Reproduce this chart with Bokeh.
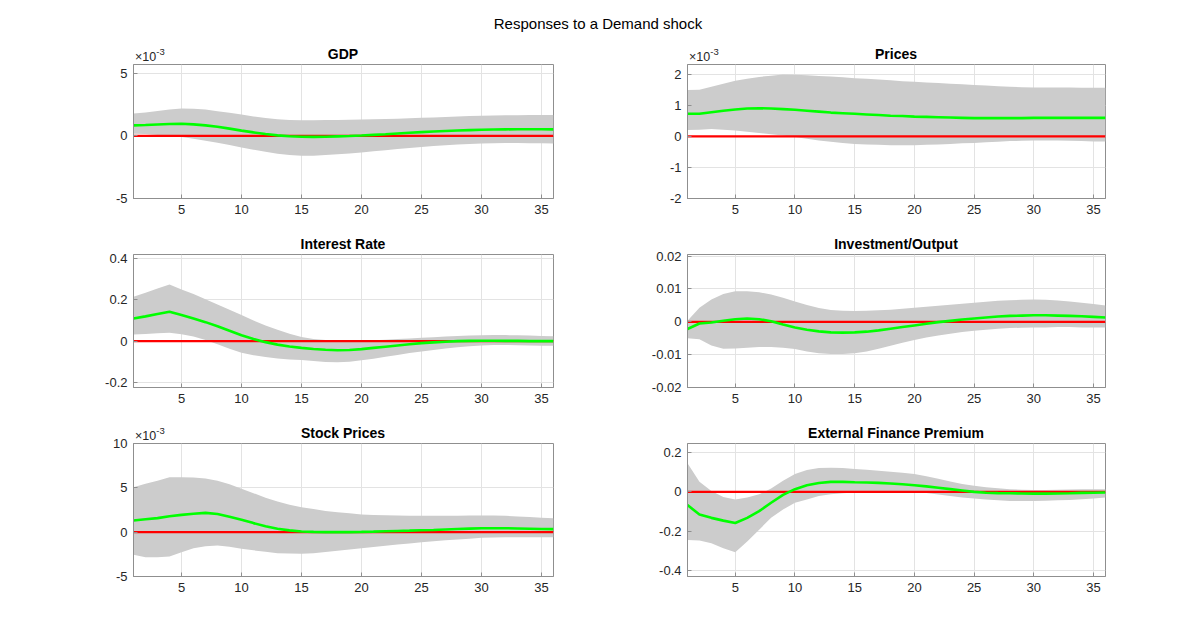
from bokeh.plotting import figure
from bokeh.layouts import column, row
from bokeh.models import Div, FixedTicker, Range1d
from bokeh.embed import file_html
from bokeh.resources import INLINE

periods = list(range(1, 37))
x_ticks = [5, 10, 15, 20, 25, 30, 35]
chart_title = "Responses to a Demand shock"

# GDP (x 1e-3)
gdp_mean = [0.84,0.87,0.91,0.95,0.97,0.92,0.84,0.73,0.58,0.42,0.28,0.15,0.04,-0.03,-0.07,-0.08,-0.07,-0.04,-0.01,0.03,0.08,0.13,0.19,0.25,0.30,0.35,0.39,0.43,0.46,0.49,0.51,0.52,0.53,0.53,0.53,0.52]
gdp_upper = [1.79,1.87,1.98,2.1,2.18,2.17,2.1,1.97,1.84,1.7,1.55,1.42,1.32,1.27,1.25,1.25,1.26,1.27,1.29,1.3,1.32,1.34,1.37,1.4,1.44,1.47,1.51,1.55,1.58,1.61,1.63,1.64,1.65,1.66,1.66,1.66]
gdp_lower = [0.18,0.15,0.08,0.0,-0.08,-0.22,-0.38,-0.55,-0.73,-0.92,-1.1,-1.27,-1.42,-1.53,-1.58,-1.58,-1.53,-1.47,-1.4,-1.32,-1.23,-1.14,-1.05,-0.96,-0.88,-0.81,-0.75,-0.69,-0.64,-0.6,-0.58,-0.57,-0.57,-0.58,-0.58,-0.6]

# Prices (x 1e-3)
prices_mean = [0.73,0.73,0.78,0.83,0.87,0.9,0.91,0.9,0.88,0.86,0.83,0.8,0.77,0.75,0.73,0.71,0.69,0.67,0.66,0.64,0.63,0.62,0.61,0.6,0.59,0.59,0.59,0.59,0.59,0.6,0.6,0.6,0.6,0.6,0.6,0.6]
prices_upper = [1.5,1.51,1.6,1.7,1.8,1.86,1.92,1.96,2.0,1.99,1.97,1.95,1.93,1.91,1.88,1.86,1.84,1.81,1.78,1.76,1.74,1.72,1.7,1.68,1.66,1.64,1.62,1.6,1.59,1.58,1.58,1.58,1.58,1.57,1.57,1.57]
prices_lower = [0.21,0.22,0.24,0.22,0.19,0.15,0.11,0.07,0.03,-0.02,-0.07,-0.13,-0.17,-0.21,-0.24,-0.26,-0.27,-0.28,-0.28,-0.28,-0.27,-0.26,-0.24,-0.22,-0.21,-0.19,-0.17,-0.15,-0.14,-0.13,-0.13,-0.13,-0.14,-0.15,-0.16,-0.16]

# Interest Rate
rate_mean = [0.11,0.12,0.131,0.142,0.127,0.11,0.092,0.072,0.05,0.028,0.01,-0.005,-0.017,-0.026,-0.033,-0.038,-0.042,-0.044,-0.043,-0.039,-0.033,-0.027,-0.021,-0.015,-0.01,-0.006,-0.003,0.0,0.001,0.002,0.002,0.001,0.001,0.0,0.0,0.0]
rate_upper = [0.215,0.235,0.255,0.274,0.25,0.228,0.203,0.178,0.152,0.126,0.1,0.076,0.055,0.036,0.02,0.01,0.005,0.003,0.002,0.002,0.004,0.007,0.01,0.013,0.016,0.019,0.022,0.025,0.027,0.028,0.029,0.029,0.028,0.027,0.025,0.024]
rate_lower = [0.032,0.035,0.038,0.04,0.033,0.022,0.005,-0.015,-0.037,-0.056,-0.068,-0.077,-0.084,-0.089,-0.092,-0.097,-0.101,-0.103,-0.1,-0.093,-0.085,-0.076,-0.067,-0.058,-0.05,-0.043,-0.036,-0.03,-0.025,-0.021,-0.019,-0.019,-0.02,-0.021,-0.022,-0.023]

# Investment/Output
inv_mean = [-0.0022,-0.0005,-0.0002,0.0003,0.0008,0.001,0.0008,0.0002,-0.0008,-0.0017,-0.0024,-0.0029,-0.0032,-0.0033,-0.0032,-0.003,-0.0026,-0.0021,-0.0016,-0.0011,-0.0006,-0.0001,0.0003,0.0007,0.001,0.0013,0.0016,0.0018,0.0019,0.002,0.002,0.0019,0.0018,0.0017,0.0015,0.0013]
inv_upper = [0.0003,0.0043,0.0068,0.0085,0.0093,0.0093,0.009,0.0083,0.0073,0.0062,0.0051,0.0042,0.0036,0.0034,0.0033,0.0034,0.0035,0.0037,0.004,0.0043,0.0046,0.0049,0.0052,0.0055,0.0058,0.0061,0.0064,0.0066,0.0067,0.0068,0.0067,0.0065,0.0062,0.0058,0.0054,0.005]
inv_lower = [-0.005,-0.0053,-0.0072,-0.0082,-0.0081,-0.0079,-0.0077,-0.0077,-0.0079,-0.0083,-0.009,-0.0096,-0.0098,-0.0098,-0.0096,-0.009,-0.0082,-0.0073,-0.0064,-0.0055,-0.0048,-0.0042,-0.0036,-0.0031,-0.0027,-0.0024,-0.0021,-0.0019,-0.0018,-0.0017,-0.0017,-0.0016,-0.0016,-0.0017,-0.0017,-0.0017]

# Stock Prices (x 1e-3)
stock_mean = [1.32,1.45,1.58,1.8,1.95,2.08,2.18,2.05,1.75,1.4,1.02,0.66,0.38,0.2,0.08,0.03,0.0,0.0,0.01,0.03,0.06,0.1,0.14,0.17,0.21,0.25,0.3,0.35,0.4,0.44,0.45,0.45,0.42,0.39,0.36,0.34]
stock_upper = [5.07,5.45,5.8,6.2,6.2,6.17,6.05,5.8,5.4,4.9,4.4,3.87,3.45,3.1,2.82,2.6,2.4,2.26,2.12,2.0,1.94,1.9,1.87,1.85,1.84,1.84,1.85,1.86,1.87,1.88,1.87,1.85,1.77,1.7,1.64,1.58]
stock_lower = [-2.56,-2.82,-2.82,-2.74,-2.26,-1.8,-1.6,-1.5,-1.65,-1.88,-2.05,-2.2,-2.37,-2.42,-2.44,-2.38,-2.25,-2.1,-1.95,-1.8,-1.66,-1.53,-1.4,-1.27,-1.13,-1.02,-0.92,-0.83,-0.74,-0.64,-0.6,-0.58,-0.56,-0.56,-0.56,-0.56]

# External Finance Premium
efp_mean = [-0.067,-0.115,-0.132,-0.146,-0.158,-0.132,-0.098,-0.055,-0.015,0.014,0.034,0.045,0.051,0.051,0.049,0.048,0.046,0.043,0.039,0.034,0.028,0.021,0.014,0.007,0.0,-0.004,-0.006,-0.007,-0.008,-0.009,-0.009,-0.008,-0.007,-0.005,-0.004,-0.003]
efp_upper = [0.146,0.051,0.005,-0.026,-0.038,-0.029,-0.012,0.017,0.057,0.091,0.111,0.122,0.123,0.121,0.117,0.113,0.108,0.103,0.097,0.091,0.08,0.067,0.053,0.04,0.031,0.023,0.018,0.014,0.011,0.01,0.01,0.011,0.012,0.013,0.014,0.014]
efp_lower = [-0.244,-0.247,-0.261,-0.286,-0.307,-0.252,-0.192,-0.132,-0.089,-0.055,-0.038,-0.021,-0.012,-0.007,-0.003,-0.001,0.0,0.0,0.0,0.0,-0.006,-0.013,-0.021,-0.028,-0.033,-0.038,-0.042,-0.046,-0.046,-0.046,-0.045,-0.043,-0.041,-0.037,-0.033,-0.029]

zero_line = [0.0] * 36

panels = [
    ("GDP", gdp_mean, gdp_upper, gdp_lower, (-5, 5.7), [-5, 0, 5], ["-5", "0", "5"], True),
    ("Prices", prices_mean, prices_upper, prices_lower, (-2, 2.32), [-2, -1, 0, 1, 2], ["-2", "-1", "0", "1", "2"], True),
    ("Interest Rate", rate_mean, rate_upper, rate_lower, (-0.225, 0.42), [-0.2, 0, 0.2, 0.4], ["-0.2", "0", "0.2", "0.4"], False),
    ("Investment/Output", inv_mean, inv_upper, inv_lower, (-0.02, 0.0205), [-0.02, -0.01, 0, 0.01, 0.02], ["-0.02", "-0.01", "0", "0.01", "0.02"], False),
    ("Stock Prices", stock_mean, stock_upper, stock_lower, (-5, 10), [-5, 0, 5, 10], ["-5", "0", "5", "10"], True),
    ("External Finance Premium", efp_mean, efp_upper, efp_lower, (-0.43, 0.246), [-0.4, -0.2, 0, 0.2], ["-0.4", "-0.2", "0", "0.2"], False),
]

FONT = "Liberation Sans"
TXT = "#262626"

# layout geometry (pixels)
LEFT_X0, LEFT_W = 133, 420
RIGHT_X0, RIGHT_W = 687, 418
FRAME_H = [134, 133, 133]
TOP_B = 8
HEADER_H = [56, 20, 20]
BOTTOM_B = [28, 28, 32]


def make_panel(i, spec):
    name, mean, upper, lower, yr, yt, ylabels, scaled = spec
    left_col = (i % 2 == 0)
    rowi = i // 2
    p = figure(
        frame_width=LEFT_W if left_col else RIGHT_W,
        frame_height=FRAME_H[rowi],
        min_border_left=LEFT_X0 if left_col else RIGHT_X0 - (LEFT_X0 + LEFT_W + 74),
        min_border_right=74 if left_col else 40,
        min_border_top=TOP_B,
        min_border_bottom=BOTTOM_B[rowi],
        x_range=Range1d(1, 36), y_range=Range1d(*yr),
        output_backend="svg", toolbar_location=None,
    )
    p.title.visible = False
    p.outline_line_color = "#8f8f8f"
    p.outline_line_width = 1
    p.background_fill_color = "white"
    p.border_fill_alpha = 0

    px = periods
    p.patch(px + px[::-1], list(upper) + list(lower)[::-1], fill_color="#cccccc", line_color=None)
    p.line(px, zero_line, line_color="#ff0000", line_width=2.2)
    p.line(px, mean, line_color="#00ff00", line_width=2.6)

    p.xaxis.ticker = FixedTicker(ticks=x_ticks)
    p.yaxis.ticker = FixedTicker(ticks=yt)
    p.yaxis.major_label_overrides = {t: l for t, l in zip(yt, ylabels)}
    for ax in (p.xaxis[0], p.yaxis[0]):
        ax.axis_line_color = "#8f8f8f"
        ax.major_tick_line_color = "#8f8f8f"
        ax.major_tick_in = 4
        ax.major_tick_out = 0
        ax.minor_tick_line_color = None
        ax.major_label_text_font = FONT
        ax.major_label_text_font_size = "13px"
        ax.major_label_text_color = TXT
        ax.major_label_standoff = 6
    p.xgrid.grid_line_color = "#e3e3e3"
    p.ygrid.grid_line_color = "#e3e3e3"
    return p


def header(rowi, with_super=False):
    h = HEADER_H[rowi]
    frame_top = h + TOP_B
    parts = []
    if with_super:
        parts.append(
            f"<span style=\"position:absolute;left:0;width:1196px;top:16px;text-align:center;"
            f"font-size:15px;line-height:15px;color:#000;white-space:nowrap;\">{chart_title}</span>")
    for col in (0, 1):
        name = panels[rowi * 2 + col][0]
        scaled = panels[rowi * 2 + col][7]
        x0, w = (LEFT_X0, LEFT_W) if col == 0 else (RIGHT_X0, RIGHT_W)
        base_title = frame_top - 5.5
        parts.append(
            f"<span style=\"position:absolute;left:{x0}px;width:{w}px;top:{base_title - 11.85:.1f}px;"
            f"text-align:center;font-size:14px;line-height:14px;font-weight:bold;color:#000;"
            f"white-space:nowrap;\">{name}</span>")
        if scaled:
            base_exp = frame_top - 2.5
            parts.append(
                f"<span style=\"position:absolute;left:{x0 + 2}px;top:{base_exp - 10.6:.1f}px;"
                f"font-size:12.5px;line-height:12.5px;color:{TXT};white-space:nowrap;\">×10"
                f"<span style=\"position:relative;top:-5.5px;font-size:9.5px;\">-3</span></span>")
    html = (f"<div style=\"position:relative;width:1196px;height:{h}px;overflow:visible;"
            f"font-family:'Liberation Sans',Arial,sans-serif;\">" + "".join(parts) + "</div>")
    return Div(text=html, width=1196, height=h, margin=(0, 0, 0, 0),
               styles={"overflow": "visible"})


figs = [make_panel(i, s) for i, s in enumerate(panels)]

layout = column(
    header(0, with_super=True), row(figs[0], figs[1]),
    header(1), row(figs[2], figs[3]),
    header(2), row(figs[4], figs[5]),
)

open("out.html", "w").write(file_html(layout, INLINE))
